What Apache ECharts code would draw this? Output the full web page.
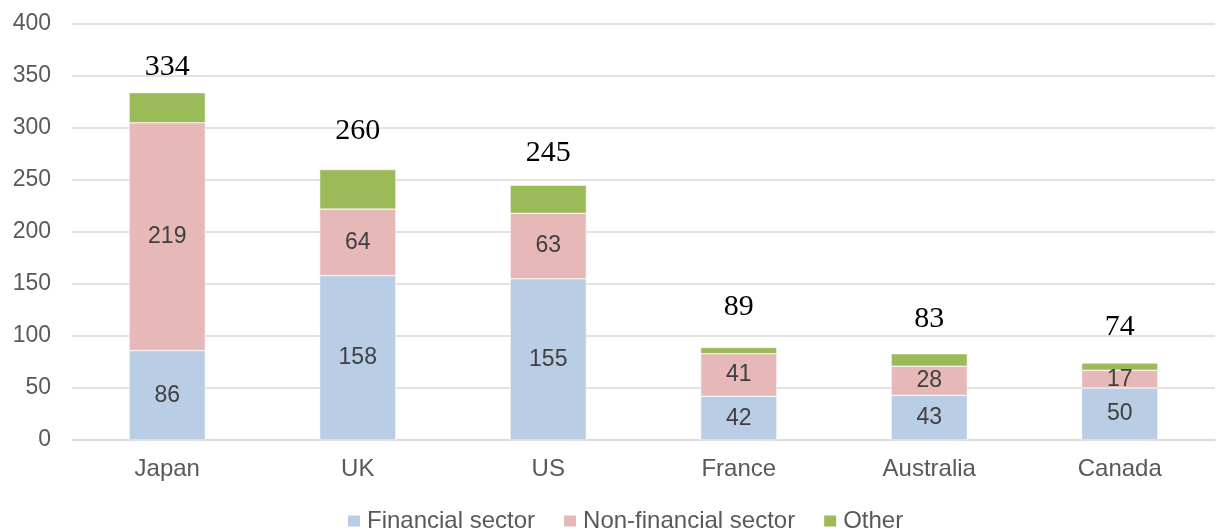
<!DOCTYPE html>
<html>
<head>
<meta charset="utf-8">
<script src="https://cdn.jsdelivr.net/npm/echarts@6/dist/echarts.min.js"></script>
<style>
html,body{margin:0;padding:0;background:#fff;}
#chart{width:1216px;height:532px;}
</style>
</head>
<body>
<div id="chart"></div>
<script>
var countries = ['Japan', 'UK', 'US', 'France', 'Australia', 'Canada'];
var financial = [86, 158, 155, 42, 43, 50];
var nonFinancial = [219, 64, 63, 41, 28, 17];
var other = [29, 38, 27, 6, 12, 7];
var yTicks = [0, 50, 100, 150, 200, 250, 300, 350, 400];

// gap above each bar for the total label (hand placed in the original)
var totalGap = [11, 23, 17, 25, 20, 21];

var totals = countries.map(function (c, i) {
    return financial[i] + nonFinancial[i] + other[i];
});

var chart = echarts.init(document.getElementById('chart'));

var sans = 'Arial, Liberation Sans, sans-serif';

var segLabel = {
    show: true,
    position: 'inside',
    color: '#404040',
    fontSize: 23,
    fontFamily: sans
};

var option = {
    animation: false,
    backgroundColor: '#fff',
    grid: { left: 72, right: 1, top: 24, bottom: 92 },
    legend: {
        top: 504,
        left: 341,
        itemWidth: 14,
        itemHeight: 13,
        itemGap: 27,
        icon: 'rect',
        textStyle: { color: '#595959', fontSize: 24, fontFamily: sans, padding: [0, 0, 0, 1] },
        data: ['Financial sector', 'Non-financial sector', 'Other']
    },
    xAxis: {
        type: 'category',
        data: countries,
        axisLine: { lineStyle: { color: '#d9d9d9', width: 1.5 } },
        axisTick: { show: false },
        axisLabel: { color: '#595959', fontSize: 24, margin: 17, fontFamily: sans }
    },
    yAxis: {
        type: 'value',
        min: yTicks[0],
        max: yTicks[yTicks.length - 1],
        interval: 50,
        axisLine: { show: false },
        axisTick: { show: false },
        splitLine: { lineStyle: { color: '#d9d9d9', width: 1.5 } },
        axisLabel: { color: '#595959', fontSize: 23, margin: 21, fontFamily: sans }
    },
    series: [
        {
            name: 'Financial sector',
            type: 'bar',
            stack: 'total',
            barWidth: '40%',
            itemStyle: { color: '#b9cde5', borderColor: '#fff', borderWidth: 0.5 },
            label: segLabel,
            data: financial
        },
        {
            name: 'Non-financial sector',
            type: 'bar',
            stack: 'total',
            itemStyle: { color: '#e6b9b8', borderColor: '#fff', borderWidth: 0.5 },
            label: segLabel,
            data: nonFinancial
        },
        {
            name: 'Other',
            type: 'bar',
            stack: 'total',
            itemStyle: { color: '#9bbb59', borderColor: '#fff', borderWidth: 0.5 },
            data: other.map(function (v, i) {
                return {
                    value: v,
                    label: {
                        show: true,
                        position: 'top',
                        distance: totalGap[i],
                        formatter: String(totals[i]),
                        color: '#000',
                        fontSize: 30,
                        fontFamily: 'Liberation Serif, Times New Roman, serif'
                    }
                };
            })
        }
    ]
};

chart.setOption(option);

window.addEventListener('resize', function () {
    chart.resize();
});
</script>
</body>
</html>
